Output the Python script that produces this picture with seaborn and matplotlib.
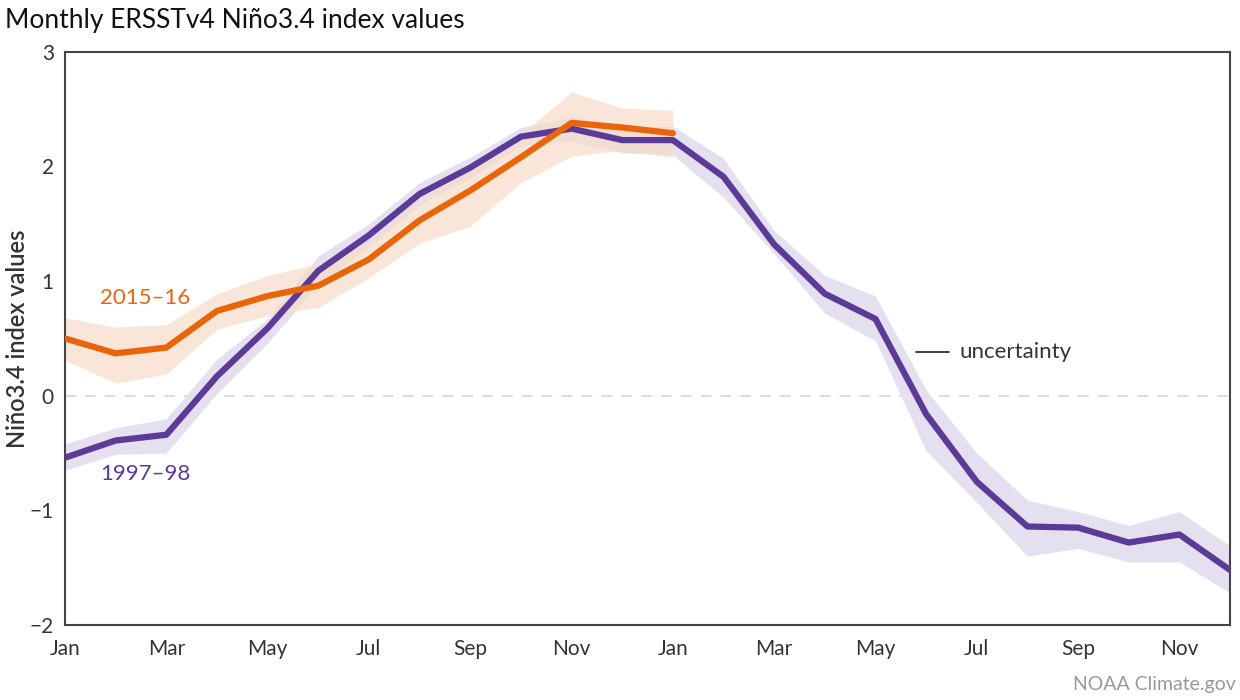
import matplotlib.pyplot as plt
import pandas as pd
import seaborn as sns

sns.set_theme(style="white")
plt.rcParams['font.family'] = ['Lato', 'DejaVu Sans']

# month labels for the 24-month window (Jan of year 0 to Dec of year 1)
months = ['Jan', 'Feb', 'Mar', 'Apr', 'May', 'Jun', 'Jul', 'Aug', 'Sep', 'Oct', 'Nov', 'Dec'] * 2
tick_labels = ['Jan', 'Mar', 'May', 'Jul', 'Sep', 'Nov', 'Jan', 'Mar', 'May', 'Jul', 'Sep', 'Nov']

# 1997-98 event
nino_9798 = [-0.54, -0.39, -0.34, 0.17, 0.59, 1.09, 1.40, 1.76, 1.99, 2.26, 2.33, 2.23,
             2.23, 1.91, 1.32, 0.89, 0.67, -0.16, -0.75, -1.14, -1.15, -1.28, -1.21, -1.52]
upper_9798 = [-0.42, -0.28, -0.20, 0.32, 0.67, 1.22, 1.50, 1.86, 2.08, 2.34, 2.43, 2.35,
              2.35, 2.07, 1.44, 1.05, 0.87, 0.05, -0.50, -0.91, -1.01, -1.13, -1.01, -1.31]
lower_9798 = [-0.65, -0.51, -0.50, 0.02, 0.46, 0.97, 1.30, 1.66, 1.90, 2.18, 2.22, 2.12,
              2.10, 1.73, 1.24, 0.72, 0.48, -0.48, -0.93, -1.40, -1.33, -1.45, -1.45, -1.72]

# 2015-16 event (through Jan 2016)
nino_1516 = [0.50, 0.37, 0.42, 0.74, 0.87, 0.96, 1.19, 1.53, 1.79, 2.08, 2.38, 2.34, 2.29]
upper_1516 = [0.68, 0.60, 0.62, 0.89, 1.05, 1.15, 1.33, 1.70, 2.00, 2.28, 2.65, 2.51, 2.49]
lower_1516 = [0.31, 0.11, 0.19, 0.58, 0.70, 0.77, 1.03, 1.33, 1.48, 1.86, 2.09, 2.14, 2.08]

purple = '#5b3a98'
orange = '#e8650a'

df = pd.concat([
    pd.DataFrame({'month': range(len(nino_9798)), 'value': nino_9798, 'event': '1997–98'}),
    pd.DataFrame({'month': range(len(nino_1516)), 'value': nino_1516, 'event': '2015–16'}),
])

fig = plt.figure(figsize=(12.4, 7), dpi=100)
ax = fig.add_axes([0.0524, 0.107, 0.9396, 0.819])

# uncertainty bands
ax.fill_between(range(len(upper_9798)), lower_9798, upper_9798, color='#e4e0f0', lw=0, zorder=1)
ax.fill_between(range(len(upper_1516)), lower_1516, upper_1516, color='#f8dcc8', alpha=0.7, lw=0, zorder=2)

ax.axhline(0, color='#d9d9d9', lw=1.3, ls=(0, (6, 5)), zorder=0)

sns.lineplot(data=df, x='month', y='value', hue='event',
             palette={'1997–98': purple, '2015–16': orange},
             hue_order=['1997–98', '2015–16'],
             lw=4.5, legend=False, ax=ax, zorder=3)

ax.set_xlim(0, 23)
ax.set_ylim(-2, 3)
ax.set_xticks(range(0, 24, 2))
ax.set_xticklabels(tick_labels)
ax.set_yticks([-2, -1, 0, 1, 2, 3])
ax.set_yticklabels(['−2', '−1', '0', '1', '2', '3'])
ax.set_xlabel('')
ax.set_ylabel('Niño3.4 index values', fontsize=17, color='#333333', fontweight='semibold')
ax.yaxis.set_label_coords(-0.031, 0.5)
ax.tick_params(axis='both', direction='in', length=7, width=1, color='#444444',
               labelsize=15, labelcolor='#333333')
ax.tick_params(axis='x', pad=10)
ax.tick_params(axis='y', pad=8)
for s in ax.spines.values():
    s.set_color('#444444')
    s.set_linewidth(1.5)

ax.text(0.7, 0.85, '2015–16', color=orange, fontsize=16, ha='left', va='center')
ax.text(0.7, -0.68, '1997–98', color=purple, fontsize=16, ha='left', va='center')
ax.plot([16.8, 17.45], [0.38, 0.38], color='#333333', lw=1.3)
ax.text(17.65, 0.38, 'uncertainty', color='#333333', fontsize=16, ha='left', va='center')

fig.text(0.004, 0.971, 'Monthly ERSSTv4 Niño3.4 index values', fontsize=19, color='#111111',
         ha='left', va='center')
fig.text(0.997, 0.022, 'NOAA Climate.gov', fontsize=14, color='#999999', ha='right', va='center')

plt.savefig('out.png', dpi=100)
plt.close()
